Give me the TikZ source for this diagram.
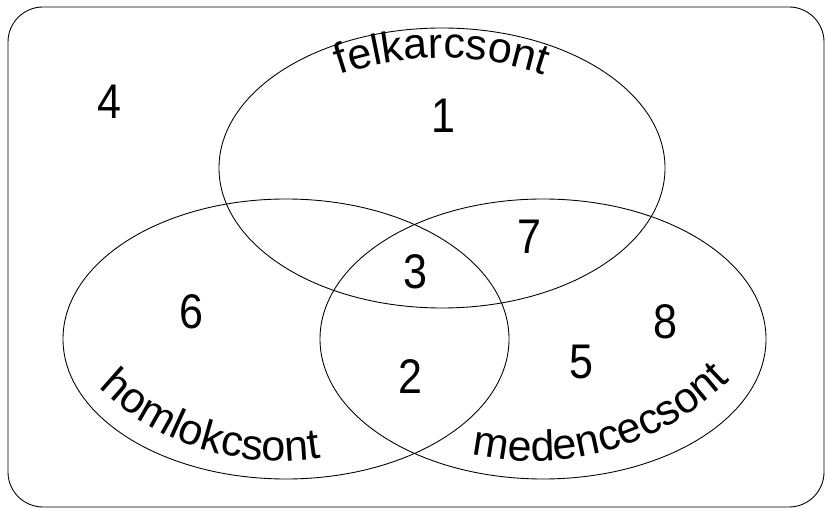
\documentclass[tikz,border=0pt]{standalone}
\usepackage{fontspec}
\setmainfont{Liberation Sans}
\usetikzlibrary{decorations.text}
\newcommand{\vennfont}{\fontsize{24.5}{29}\selectfont}
\newcommand{\regionno}[1]{\scalebox{1}[1.13]{#1}}
\begin{document}
\begin{tikzpicture}[x=0.02cm,y=0.02cm,
  set/.style={draw,line width=0.5pt},
  num/.style={font=\vennfont,inner sep=0pt},
  setname/.style={decorate,decoration={text along path,text align=center,text={|\vennfont|#1}}}]
 \useasboundingbox (0,0) rectangle (827,510);
 \draw[set,rounded corners=0.7cm] (8,3) rectangle (824,503);
 % the three sets
 \coordinate (fel) at (442,342);
 \coordinate (hom) at (286,171);
 \coordinate (med) at (543,171);
 \draw[set] (fel) ellipse [x radius=223,y radius=140];
 \draw[set] (hom) ellipse [x radius=223,y radius=140];
 \draw[set] (med) ellipse [x radius=223,y radius=140];
 % names along the borders
 \path[setname=felkarcsont] (442,134) ++(110:318) arc[start angle=110,end angle=70,radius=318];
 \path[setname=homlokcsont] (280,309) ++(227:260) arc[start angle=227,end angle=278,radius=260];
 \path[setname=medencecsont] (533,329) ++(258:280) arc[start angle=258,end angle=314,radius=280];
 % regions
 \node[num] (n1) at (443,394) {\regionno{1}};
 \node[num] (n2) at (410,133) {\regionno{2}};
 \node[num] (n3) at (415,238) {\regionno{3}};
 \node[num] (n4) at (109,408) {\regionno{4}};
 \node[num] (n5) at (581,148) {\regionno{5}};
 \node[num] (n6) at (191,198) {\regionno{6}};
 \node[num] (n7) at (529,273) {\regionno{7}};
 \node[num] (n8) at (665,188) {\regionno{8}};
\end{tikzpicture}
\end{document}
